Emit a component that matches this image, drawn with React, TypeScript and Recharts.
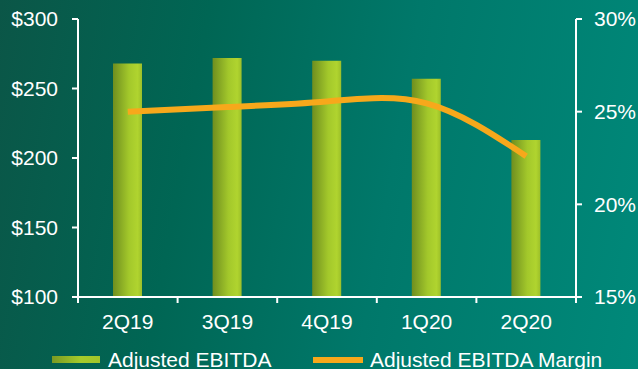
import React from 'react';
import { ComposedChart, Bar, Line, XAxis, YAxis, Legend } from 'recharts';

const categories = ['2Q19', '3Q19', '4Q19', '1Q20', '2Q20'];
const ebitda = [268, 272, 270, 257, 213];
const margin = [25.0, 25.25, 25.55, 25.45, 22.6];
const leftTicks = [100, 150, 200, 250, 300];
const rightTicks = [15, 20, 25, 30];

const data = categories.map((c, i) => ({ name: c, ebitda: ebitda[i], margin: margin[i] }));

const FONT = 'Liberation Sans, Arial, sans-serif';

const XTick = (props: any) => {
  const { x, y, payload, index, visibleTicksCount } = props;
  const off = payload.offset || 0;
  const axisY = y - 17;
  return (
    <g>
      <line x1={x - off} x2={x - off} y1={axisY} y2={axisY + 6} stroke="#fff" strokeWidth={2} />
      {index === visibleTicksCount - 1 ? (
        <line x1={x + off} x2={x + off} y1={axisY} y2={axisY + 6} stroke="#fff" strokeWidth={2} />
      ) : null}
      <text x={x} y={y} dy="0.71em" textAnchor="middle" fill="#fff" fontSize={21} fontFamily={FONT}>
        {payload.value}
      </text>
    </g>
  );
};

const LegendContent = () => (
  <svg width={638} height={30} style={{ display: 'block' }}>
    <rect x={52} y={17} width={48} height={7} fill="url(#barGradLegend)" />
    <text x={108} y={28} fill="#fff" fontSize={21} fontFamily={FONT}>Adjusted EBITDA</text>
    <rect x={313} y={18} width={50} height={6} fill="#f7a81b" />
    <text x={370} y={28} fill="#fff" fontSize={21} fontFamily={FONT}>Adjusted EBITDA Margin</text>
    <defs>
      <linearGradient id="barGradLegend" x1="0" y1="0" x2="1" y2="0">
        <stop offset="0" stopColor="#7a9a22" />
        <stop offset="0.6" stopColor="#a6cb2b" />
        <stop offset="1" stopColor="#a2c62a" />
      </linearGradient>
    </defs>
  </svg>
);

export default function App() {
  return (
    <div
      style={{
        position: 'absolute',
        left: 0,
        top: 0,
        width: 638,
        height: 369,
        overflow: 'hidden',
        background: 'linear-gradient(100deg, #0b5647 0%, #006654 30%, #00786a 60%, #00897a 100%)',
      }}
    >
      <ComposedChart width={638} height={369} data={data} margin={{ top: 19, right: 0, left: 0, bottom: 0 }}>
        <defs>
          <linearGradient id="barGrad" x1="0" y1="0" x2="1" y2="0">
            <stop offset="0" stopColor="#6f8e1f" />
            <stop offset="0.55" stopColor="#a3c82b" />
            <stop offset="0.85" stopColor="#b0d42f" />
            <stop offset="1" stopColor="#9cbf29" />
          </linearGradient>
        </defs>
        <XAxis
          dataKey="name"
          height={42}
          axisLine={{ stroke: '#fff', strokeWidth: 2 }}
          tickLine={false}
          tickSize={0}
          tickMargin={17}
          tick={<XTick />}
          interval={0}
        />
        <YAxis
          yAxisId="left"
          orientation="left"
          width={78}
          domain={[100, 300]}
          ticks={leftTicks}
          tickFormatter={(v: number) => `$${v}`}
          axisLine={{ stroke: '#fff', strokeWidth: 2 }}
          tickLine={{ stroke: '#fff', strokeWidth: 2 }}
          tickSize={6}
          tickMargin={14}
          tick={{ fill: '#fff', fontSize: 21, fontFamily: FONT }}
          allowDataOverflow
        />
        <YAxis
          yAxisId="right"
          orientation="right"
          width={62}
          domain={[15, 30]}
          ticks={rightTicks}
          tickFormatter={(v: number) => `${v}%`}
          axisLine={{ stroke: '#fff', strokeWidth: 2 }}
          tickLine={{ stroke: '#fff', strokeWidth: 2 }}
          tickSize={6}
          tickMargin={12}
          tick={{ fill: '#fff', fontSize: 21, fontFamily: FONT }}
          allowDataOverflow
        />
        <Legend verticalAlign="bottom" content={<LegendContent />} wrapperStyle={{ left: 0, width: 638, height: 30 }} />
        <Bar yAxisId="left" dataKey="ebitda" name="Adjusted EBITDA" barSize={29} fill="url(#barGrad)" isAnimationActive={false} />
        <Line
          yAxisId="right"
          dataKey="margin"
          name="Adjusted EBITDA Margin"
          type="natural"
          stroke="#f7a81b"
          strokeWidth={6}
          dot={false}
          isAnimationActive={false}
        />
      </ComposedChart>
    </div>
  );
}
